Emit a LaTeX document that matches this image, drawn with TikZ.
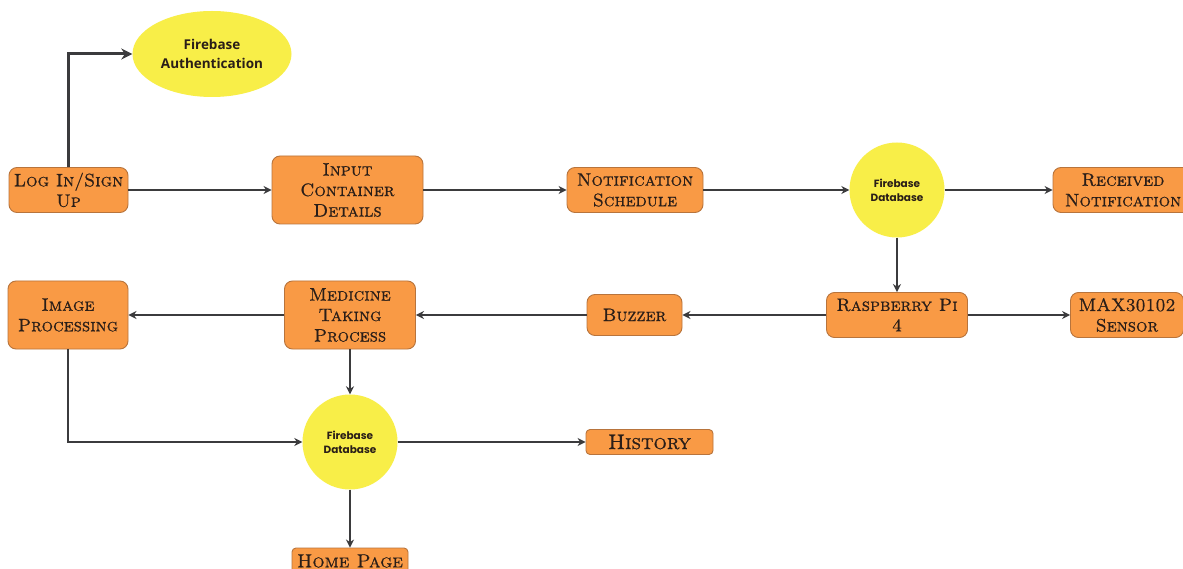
\documentclass[tikz,border=0pt]{standalone}
\usepackage{fontspec}
\newfontfamily\authfont{Open Sans}
\newfontfamily\dbfont{Poppins}
\newfontfamily\boxfont{lmromancaps10-regular.otf}[FakeBold=0.7]
\usetikzlibrary{arrows.meta,shapes.geometric}
\definecolor{boxfill}{HTML}{F99A45}
\definecolor{boxline}{HTML}{B8743C}
\definecolor{yel}{HTML}{F8EE48}
\definecolor{arr}{HTML}{3B3B3D}
\definecolor{txt}{HTML}{2A1E18}
\tikzset{
  box/.style={draw=boxline, line width=0.9pt, fill=boxfill, rounded corners=8pt,
    align=center, text=txt, inner sep=0pt, font=\boxfont\fontsize{18}{20.5}\selectfont},
  dbcirc/.style={circle, fill=yel, minimum size=95pt, inner sep=0pt, align=center,
    text=txt, font=\dbfont\bfseries\fontsize{10.5}{14}\selectfont},
  authell/.style={ellipse, fill=yel, minimum width=159pt, minimum height=86pt, inner sep=0pt,
    align=center, text=txt, font=\authfont\bfseries\fontsize{13.5}{19}\selectfont},
  conn/.style={draw=arr, line width=1.8pt, -{Stealth[length=8pt,width=8pt]}},
  thickconn/.style={draw=arr, line width=3pt, -{Stealth[length=11pt,width=11pt]}}
}
\begin{document}
\begin{tikzpicture}[x=1pt,y=-1pt]
\useasboundingbox (0,0) rectangle (1183,569);
\clip (0,0) rectangle (1183,569);
\fill[white] (0,0) rectangle (1183,569);

\node[authell] (auth) at (212,54) {Firebase\\Authentication};
\node[box, minimum width=119pt, minimum height=45pt] (login) at (68.5,190) {Log In/Sign\\Up};
\node[box, minimum width=151pt, minimum height=68pt] (input) at (347.5,190) {Input\\Container\\Details};
\node[box, minimum width=136pt, minimum height=45pt] (notif) at (635,190) {Notification\\Schedule};
\node[dbcirc] (db1) at (897,190) {Firebase\\Database};
\node[box, minimum width=140pt, minimum height=45pt] (recv) at (1123,190) {Received\\Notification};
\node[box, minimum width=141pt, minimum height=45pt] (pi) at (897,315) {Raspberry Pi\\4};
\node[box, minimum width=113pt, minimum height=45pt] (max) at (1127,315) {MAX30102\\Sensor};
\node[box, minimum width=95pt, minimum height=41pt] (buzz) at (634.5,315) {Buzzer};
\node[box, minimum width=131pt, minimum height=68pt] (med) at (350,315) {Medicine\\Taking\\Process};
\node[box, minimum width=120pt, minimum height=68pt] (img) at (68,315) {Image\\Processing};
\node[dbcirc] (db2) at (350,442) {Firebase\\Database};
\node[box, rounded corners=4pt, minimum width=127pt, minimum height=25pt,
  font=\boxfont\fontsize{21}{22}\selectfont] (hist) at (649.5,442) {History};
\node[box, rounded corners=4pt, minimum width=116pt, minimum height=26pt,
  font=\boxfont\fontsize{19}{20}\selectfont] (home) at (350,561) {Home Page};

\draw[thickconn] (login.north) |- (auth.west);
\draw[conn] (login) -- (input);
\draw[conn] (input) -- (notif);
\draw[conn] (notif) -- (db1);
\draw[conn] (db1) -- (recv);
\draw[conn] (db1) -- (pi);
\draw[conn] (pi) -- (max);
\draw[conn] (pi) -- (buzz);
\draw[conn] (buzz) -- (med);
\draw[conn] (med) -- (img);
\draw[conn] (med) -- (db2);
\draw[conn] (img.south) |- (db2.west);
\draw[conn] (db2) -- (hist);
\draw[conn] (db2) -- (home);
\end{tikzpicture}
\end{document}
